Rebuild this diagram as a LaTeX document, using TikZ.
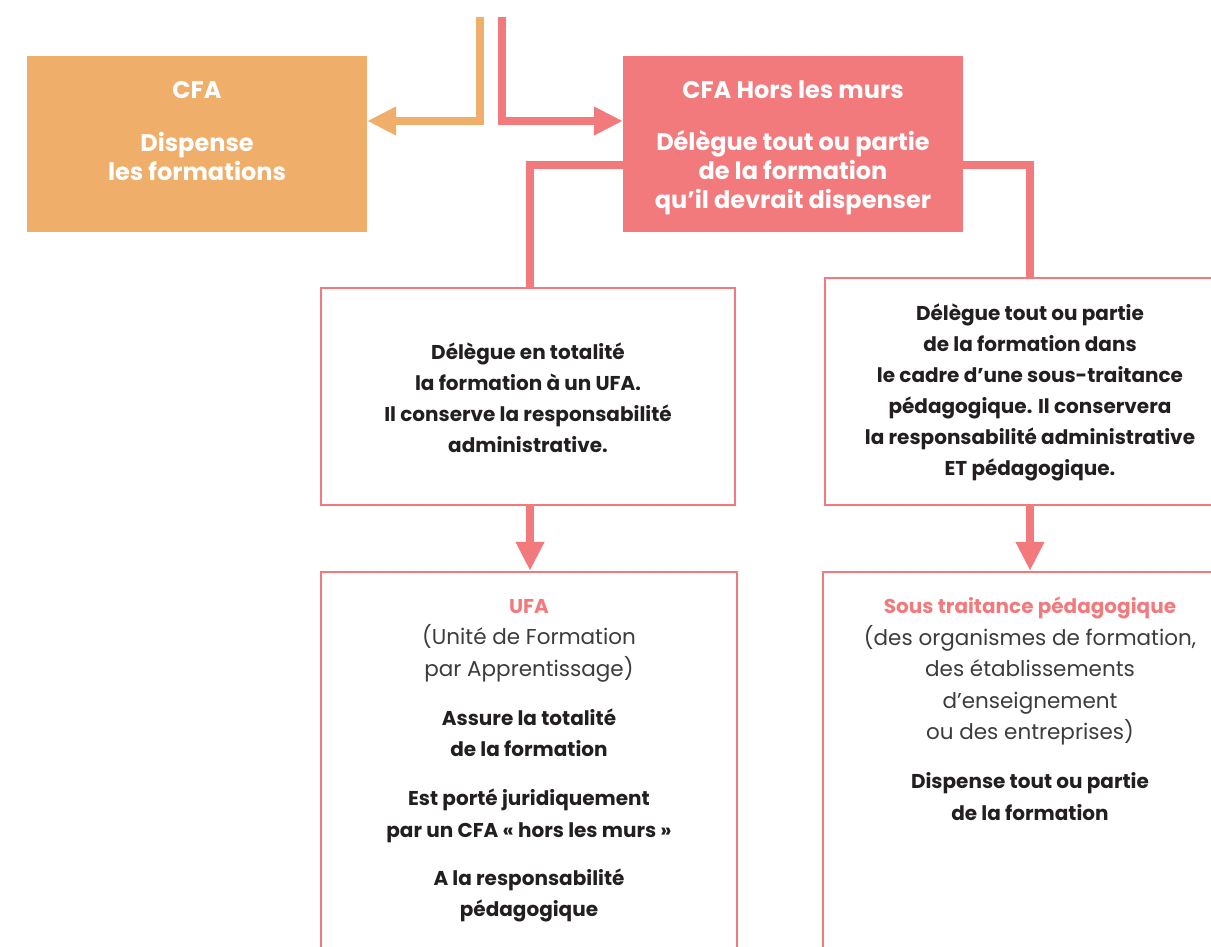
\documentclass[tikz,border=0pt]{standalone}
\usepackage{fontspec}
\setmainfont{Poppins}
\usetikzlibrary{arrows.meta,backgrounds,positioning}
\definecolor{cfaorange}{HTML}{EFAE6A}
\definecolor{hlmpink}{HTML}{F27A7C}
\definecolor{txtdark}{HTML}{231F20}
\definecolor{txtgray}{HTML}{3C3C3C}
\newcommand{\pinkhead}[1]{\textcolor{hlmpink}{#1}}
\newcommand{\grayline}[1]{{\fontsize{21.5}{31.5}\selectfont\mdseries\color{txtgray}#1}}

\begin{document}
\begin{tikzpicture}[x=1pt,y=-1pt,>={Triangle[length=29pt,width=27pt]},
  box/.style={rectangle,inner sep=0pt},
  fullbox/.style={box,fill=#1},
  framebox/.style={box,draw=hlmpink,line width=2.5pt},
  whitetxt/.style={text=white,font=\fontsize{24}{29}\selectfont\bfseries,align=center,anchor=north,inner sep=0pt},
  darktxt/.style={text=txtdark,font=\fontsize{20}{31}\selectfont\bfseries,align=center,anchor=north,inner sep=0pt},
  bottxt/.style={darktxt,font=\fontsize{20}{31.5}\selectfont\bfseries},
  link/.style={line width=8pt,draw=#1}]
\useasboundingbox (0,0) rectangle (1211,947);

% top row
\node[fullbox=cfaorange,minimum width=340pt,minimum height=176pt] (cfa) at (197,144) {};
\node[whitetxt] (cfatxt) at (197,81) {CFA\\[24pt]Dispense\\les formations};
\node[fullbox=hlmpink,minimum width=340pt,minimum height=176pt] (hlm) at (793,144) {};
\node[whitetxt] (hlmtxt) at (793,81) {CFA Hors les murs\\[23pt]Délègue tout ou partie\\de la formation\\qu’il devrait dispenser};

% middle row
\node[framebox,minimum width=414pt,minimum height=217pt] (midL) at (528,396.5) {};
\node[darktxt] (midLtxt) at (528,343) {Délègue en totalité\\la formation à un UFA.\\Il conserve la responsabilité\\administrative.};
\node[framebox,minimum width=410pt,minimum height=227pt] (midR) at (1030,391.5) {};
\node[darktxt] (midRtxt) at (1030,304) {Délègue tout ou partie\\de la formation dans\\le cadre d’une sous-traitance\\pédagogique. Il conservera\\la responsabilité administrative\\ET pédagogique.};

% bottom row
\node[framebox,minimum width=416pt,minimum height=400pt] (botL) at (529,772) {};
\node[bottxt] (botLtxt) at (529,599) {\pinkhead{UFA}\\\grayline{(Unité de Formation}\\\grayline{par Apprentissage)}\\[17.5pt]Assure la totalité\\de la formation\\[17.5pt]Est porté juridiquement\\par un CFA « hors les murs »\\[16.5pt]A la responsabilité\\pédagogique};
\node[framebox,minimum width=414pt,minimum height=400pt] (botR) at (1030,772) {};
\node[bottxt] (botRtxt) at (1030,597) {\pinkhead{Sous traitance pédagogique}\\\grayline{(des organismes de formation,}\\\grayline{des établissements}\\\grayline{d’enseignement}\\\grayline{ou des entreprises)}\\[17.5pt]Dispense tout ou partie\\de la formation};

% connectors
\coordinate (topL) at (480,17);
\coordinate (elbowL) at (480,121);
\coordinate (topR) at (502,17);
\coordinate (elbowR) at (502,121);
\draw[link=cfaorange,->] (topL) -- (elbowL) -- (elbowL -| cfa.east);
\draw[link=hlmpink,->] (topR) -- (elbowR) -- (elbowR -| hlm.west);
\coordinate (brL) at (530,165);
\coordinate (brR) at (1030,165);
\begin{scope}[on background layer]
\draw[link=hlmpink] (brL |- midL.north) -- (brL) -- (brR) -- (brR |- midR.north);
\end{scope}
\draw[link=hlmpink,->] (brL |- midL.south) -- (brL |- botL.north);
\draw[link=hlmpink,->] (brR |- midR.south) -- (brR |- botR.north);
\end{tikzpicture}
\end{document}
